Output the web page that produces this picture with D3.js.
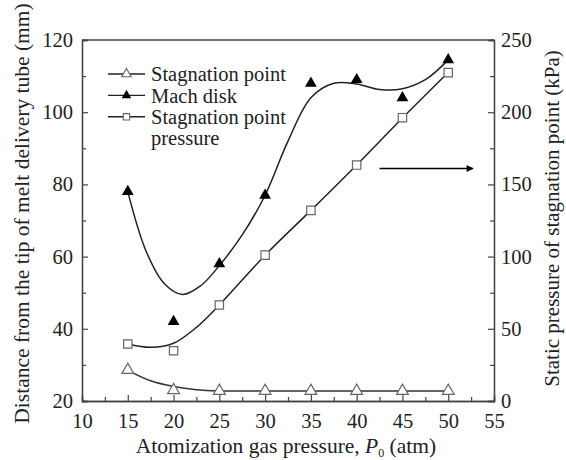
<!DOCTYPE html>
<html>
<head>
<meta charset="utf-8">
<script src="https://cdn.jsdelivr.net/npm/d3@7"></script>
<style>
  body { margin: 0; background: #fff; }
  text { font-family: "Liberation Serif", "Times New Roman", serif; fill: #222; }
</style>
</head>
<body>
<div class="chart"></div>
<script>
// measured points (x = atomization gas pressure, atm)
var pressures = [15, 20, 25, 30, 35, 40, 45, 50];
var stagnationPoint = [28.6, 23, 22.8, 22.8, 22.8, 22.8, 22.8, 22.8];   // mm
var machDisk = [78, 42, 58, 77, 108, 109, 104, 114.5];                   // mm
var stagnationPressure = [39.5, 34.8, 66.5, 101, 132, 163.4, 196.2, 227.4]; // kPa

// fitted curves: [x, y]
var stagnationFit = [[15, 28.5], [17.5, 25.6], [20, 24], [22.5, 23.1], [25, 22.8], [30, 22.8], [35, 22.8], [40, 22.8], [45, 22.8], [50, 22.8]];
var machFit = [[15, 78], [17, 61.5], [19, 52.5], [21, 49.5], [23, 52], [25, 57.5], [27.5, 66], [30, 77], [32.5, 92], [35, 104],
  [37.5, 108], [40, 107.8], [42.5, 106.3], [45, 106.5], [47.5, 109], [50, 114.5]];
var pressureFit = [[15, 39.5], [17.5, 37.2], [20, 40], [22.5, 51], [25, 66.5], [30, 101], [35, 132], [40, 163.5], [45, 196], [50, 227.5]];

var xTicks = [10, 15, 20, 25, 30, 35, 40, 45, 50, 55];
var yLeftTicks = [20, 40, 60, 80, 100, 120];
var yRightTicks = [0, 50, 100, 150, 200, 250];

var svgWidth = 566, svgHeight = 460;
var margin = { top: 40, left: 82, right: 72, bottom: 59 };
var width = svgWidth - margin.left - margin.right;
var height = svgHeight - margin.top - margin.bottom;

var serif = "'Liberation Serif', 'Times New Roman', serif";

var svg = d3.select(".chart").append("svg")
  .attr("width", svgWidth)
  .attr("height", svgHeight)
  .style("font-family", serif);

var chartGroup = svg.append("g")
  .attr("transform", `translate(${margin.left}, ${margin.top})`);

// scales
var xScale = d3.scaleLinear().domain([10, 55]).range([0, width]);
var yLeft = d3.scaleLinear().domain([20, 120]).range([height, 0]);
var yRight = d3.scaleLinear().domain([0, 250]).range([height, 0]);

var axisColor = "#444";
var tickFont = "20.5px";
var titleFont = "21.5px";

// minor ticks halfway between the labelled ones
function minorTicks(ticks) {
  var out = [];
  for (var i = 0; i < ticks.length - 1; i++) out.push((ticks[i] + ticks[i + 1]) / 2);
  return out;
}

chartGroup.append("g")
  .attr("transform", `translate(0, ${height})`)
  .call(d3.axisTop(xScale).tickValues(minorTicks(xTicks)).tickSize(4).tickFormat(""));
chartGroup.append("g")
  .call(d3.axisRight(yLeft).tickValues(minorTicks(yLeftTicks)).tickSize(4).tickFormat(""));
chartGroup.append("g")
  .attr("transform", `translate(${width}, 0)`)
  .call(d3.axisLeft(yRight).tickValues(minorTicks(yRightTicks)).tickSize(4).tickFormat(""));

// major ticks, pointing inward
var xAxis = chartGroup.append("g")
  .attr("transform", `translate(0, ${height})`)
  .call(d3.axisTop(xScale).tickValues(xTicks).tickSize(6).tickFormat(d3.format("d")));
xAxis.selectAll("text").attr("y", 12).attr("dy", "0.71em");

var yAxisLeft = chartGroup.append("g")
  .call(d3.axisRight(yLeft).tickValues(yLeftTicks).tickSize(6));
yAxisLeft.selectAll("text").attr("x", -9).style("text-anchor", "end");

var yAxisRight = chartGroup.append("g")
  .attr("transform", `translate(${width}, 0)`)
  .call(d3.axisLeft(yRight).tickValues(yRightTicks).tickSize(6));
yAxisRight.selectAll("text").attr("x", 7).style("text-anchor", "start");

chartGroup.selectAll(".domain").attr("stroke", axisColor).attr("stroke-width", 1.3);
chartGroup.selectAll(".tick line").attr("stroke", axisColor).attr("stroke-width", 1.2);
chartGroup.selectAll(".tick text")
  .style("font-size", tickFont)
  .attr("fill", "#222");

// top frame line
chartGroup.append("line")
  .attr("x1", 0).attr("x2", width).attr("y1", 0).attr("y2", 0)
  .attr("stroke", axisColor).attr("stroke-width", 1.3);

// fitted curves
var leftLine = d3.line()
  .x(d => xScale(d[0]))
  .y(d => yLeft(d[1]))
  .curve(d3.curveCatmullRom.alpha(0.5));
var rightLine = d3.line()
  .x(d => xScale(d[0]))
  .y(d => yRight(d[1]))
  .curve(d3.curveCatmullRom.alpha(0.5));

chartGroup.append("path").datum(stagnationFit)
  .attr("d", leftLine).attr("fill", "none").attr("stroke", "#333").attr("stroke-width", 1.5);
chartGroup.append("path").datum(machFit)
  .attr("d", leftLine).attr("fill", "none").attr("stroke", "#222").attr("stroke-width", 1.5);
chartGroup.append("path").datum(pressureFit)
  .attr("d", rightLine).attr("fill", "none").attr("stroke", "#222").attr("stroke-width", 1.5);

// markers
var triangle = d3.symbol().type(d3.symbolTriangle).size(60);
var square = d3.symbol().type(d3.symbolSquare).size(70);

chartGroup.selectAll(".stag")
  .data(pressures)
  .enter().append("path")
  .attr("class", "stag")
  .attr("d", triangle)
  .attr("transform", (d, i) => `translate(${xScale(d)}, ${yLeft(stagnationPoint[i])})`)
  .attr("fill", "#fff").attr("stroke", "#666").attr("stroke-width", 1.2);

chartGroup.selectAll(".mach")
  .data(pressures)
  .enter().append("path")
  .attr("class", "mach")
  .attr("d", triangle)
  .attr("transform", (d, i) => `translate(${xScale(d)}, ${yLeft(machDisk[i])})`)
  .attr("fill", "#000");

chartGroup.selectAll(".press")
  .data(pressures)
  .enter().append("path")
  .attr("class", "press")
  .attr("d", square)
  .attr("transform", (d, i) => `translate(${xScale(d)}, ${yRight(stagnationPressure[i])})`)
  .attr("fill", "#fff").attr("stroke", "#666").attr("stroke-width", 1.2);

// arrow pointing at the right axis
svg.append("defs").append("marker")
  .attr("id", "arrowhead")
  .attr("viewBox", "0 0 10 10")
  .attr("refX", 9).attr("refY", 5)
  .attr("markerWidth", 11).attr("markerHeight", 7)
  .attr("markerUnits", "userSpaceOnUse")
  .attr("orient", "auto")
  .append("path").attr("d", "M0,0L10,5L0,10z").attr("fill", "#000");

chartGroup.append("line")
  .attr("x1", xScale(42.5)).attr("x2", xScale(52.7))
  .attr("y1", yRight(161)).attr("y2", yRight(161))
  .attr("stroke", "#000").attr("stroke-width", 1.5)
  .attr("marker-end", "url(#arrowhead)");

// legend
var legendItems = [
  { label: "Stagnation point", fill: "#fff", stroke: "#666" },
  { label: "Mach disk", fill: "#000", stroke: "none" },
  { label: "Stagnation point", fill: "#fff", stroke: "#666" }
];
var legendSmallTri = d3.symbol().type(d3.symbolTriangle).size(40);
var legendSmallSq = d3.symbol().type(d3.symbolSquare).size(40);
var rowGap = 21.4;

var legend = svg.append("g").attr("transform", "translate(108, 74)");
legendItems.forEach(function(item, i) {
  var g = legend.append("g").attr("transform", `translate(0, ${i * rowGap})`);
  g.append("line").attr("x1", 0).attr("x2", 37).attr("y1", 0).attr("y2", 0)
    .attr("stroke", "#222").attr("stroke-width", 1.4);
  g.append("path")
    .attr("d", i == 2 ? legendSmallSq : legendSmallTri)
    .attr("transform", "translate(18.5, 0)")
    .attr("fill", item.fill).attr("stroke", item.stroke).attr("stroke-width", 1.1);
  g.append("text").attr("x", 43).attr("y", 0).attr("dy", "0.35em")
    .style("font-size", "20.5px").text(item.label);
});
legend.append("text").attr("x", 43).attr("y", 3 * rowGap).attr("dy", "0.35em")
  .style("font-size", "20.5px").text("pressure");

// axis titles
var xTitle = svg.append("text")
  .attr("x", margin.left + width / 2 - 2)
  .attr("y", 453)
  .style("text-anchor", "middle")
  .style("font-size", titleFont);
xTitle.append("tspan").text("Atomization gas pressure, ");
xTitle.append("tspan").style("font-style", "italic").text("P");
xTitle.append("tspan").attr("dy", 4).style("font-size", "12px").text("0");
xTitle.append("tspan").attr("dy", -4).text(" (atm)");

svg.append("text")
  .attr("transform", `translate(29, ${margin.top + height / 2 - 7}) rotate(-90)`)
  .style("text-anchor", "middle")
  .style("font-size", titleFont)
  .text("Distance from the tip of melt delivery tube (mm)");

svg.append("text")
  .attr("transform", `translate(559, ${margin.top + height / 2 - 2}) rotate(-90)`)
  .style("text-anchor", "middle")
  .style("font-size", "21px")
  .text("Static pressure of stagnation point (kPa)");

// make sure every label uses the serif face
svg.selectAll("text").style("font-family", serif);
</script>
</body>
</html>
